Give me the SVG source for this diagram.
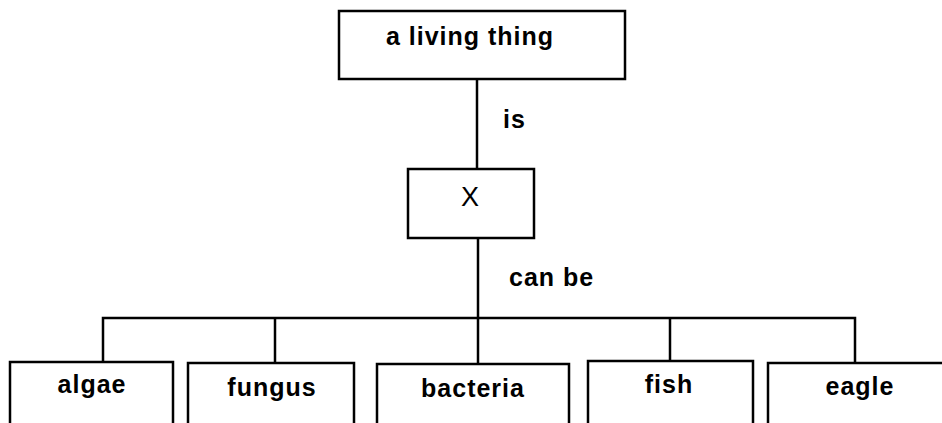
<svg xmlns="http://www.w3.org/2000/svg" width="942" height="423" viewBox="0 0 942 423">
  <style>
    .box { fill: #fff; stroke: #000; stroke-width: 2.5; }
    .wire { fill: none; stroke: #000; stroke-width: 2.5; }
    text { font-family: "Liberation Sans", Arial, sans-serif; font-size: 25px; font-weight: bold; letter-spacing: 1px; fill: #000; }
    .c { text-anchor: middle; }
  </style>
  <rect width="942" height="423" fill="#fff"/>

  <g id="connectors">
    <line class="wire" x1="477" y1="79" x2="477" y2="169"/>
    <line class="wire" x1="478" y1="238" x2="478" y2="318"/>
    <polyline class="wire" points="103,362 103,318 855,318 855,363"/>
    <line class="wire" x1="275" y1="318" x2="275" y2="363"/>
    <line class="wire" x1="670" y1="318" x2="670" y2="361"/>
    <line class="wire" x1="478" y1="318" x2="478" y2="364"/>
    <text x="503" y="128">is</text>
    <text x="509" y="286">can be</text>
  </g>

  <g id="living-thing">
    <rect class="box" x="339" y="11" width="286" height="68"/>
    <text class="c" x="470" y="45">a living thing</text>
  </g>

  <g id="x">
    <rect class="box" x="408" y="169" width="126" height="69"/>
    <text class="c" x="470" y="206" style="font-weight:normal;font-size:27px;letter-spacing:0">X</text>
  </g>

  <g id="algae">
    <path class="box" d="M10,425 V362 H173 V425"/>
    <text class="c" x="92" y="393">algae</text>
  </g>

  <g id="fungus">
    <path class="box" d="M188,425 V363 H354 V425"/>
    <text class="c" x="272" y="396">fungus</text>
  </g>

  <g id="bacteria">
    <path class="box" d="M377,425 V364 H569 V425"/>
    <text class="c" x="473" y="397">bacteria</text>
  </g>

  <g id="fish">
    <path class="box" d="M588,425 V361 H753 V425"/>
    <text class="c" x="669" y="393">fish</text>
  </g>

  <g id="eagle">
    <path class="box" d="M768,425 V363 H946 V425"/>
    <text class="c" x="860" y="395">eagle</text>
  </g>
</svg>
